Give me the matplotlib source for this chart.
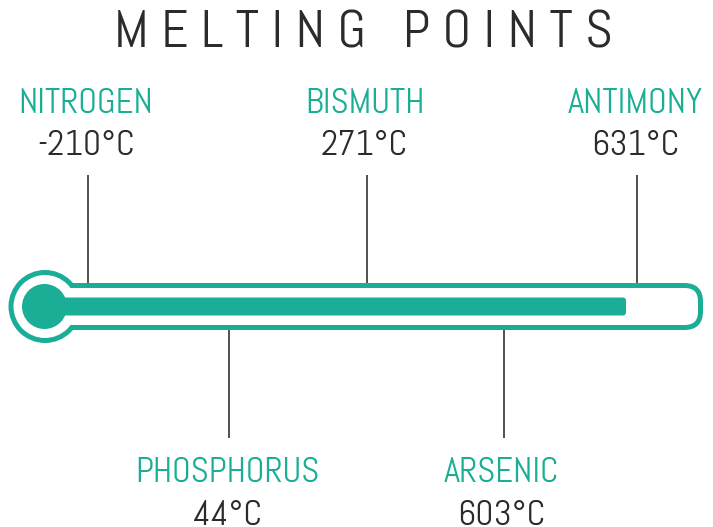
import matplotlib
matplotlib.use('Agg')
import matplotlib.pyplot as plt
from matplotlib.patches import Circle, FancyBboxPatch, Rectangle

### Data
elements = ['NITROGEN', 'PHOSPHORUS', 'BISMUTH', 'ARSENIC', 'ANTIMONY']
melting = [-210, 44, 271, 603, 631]          # degrees C
above = [True, False, True, False, True]     # label above or below the tube

### Style
TEAL = '#1bae97'
DARK = '#2b2b2b'
LINE = '#555555'
PX = 0.72                                    # points per pixel at dpi 100
FONT = ['Abel', 'DejaVu Sans']

fig = plt.figure(figsize=(7.13, 5.27), dpi=100, facecolor='white')
ax = fig.add_axes([0, 0, 1, 1])
ax.set_xlim(0, 713)
ax.set_ylim(527, 0)                          # pixel coordinates, y down
ax.set_aspect('equal')
ax.axis('off')

# title
ax.text(364, 48, 'M E L T I N G   P O I N T S', ha='center', va='baseline',
        fontsize=38.5, color=DARK, family=FONT)

# thermometer geometry
cy = 306.5
x_left, x_right = 88, 637                   # first and last element positions
step = (x_right - x_left) / (len(elements) - 1)

tube = FancyBboxPatch((45, cy - 21), 700.5 - 45, 42,
                      boxstyle='round,pad=0,rounding_size=16',
                      facecolor='white', edgecolor=TEAL, linewidth=5 * PX, zorder=1)
ax.add_patch(tube)
ax.add_patch(Circle((45, cy), 34, facecolor='white', edgecolor=TEAL,
                    linewidth=5 * PX, zorder=2))
ax.add_patch(Rectangle((50, cy - 18.5), 50, 37, facecolor='white',
                       edgecolor='none', zorder=3))

# mercury
ax.add_patch(Circle((44.5, cy), 22.5, facecolor=TEAL, edgecolor='none', zorder=4))
ax.add_patch(FancyBboxPatch((44, cy - 9), 626 - 44, 18,
                            boxstyle='round,pad=0,rounding_size=3',
                            facecolor=TEAL, edgecolor='none', zorder=4))

# leaders and labels
for i, (name, t, up) in enumerate(zip(elements, melting, above)):
    x = x_left + i * step
    if 0 < i < len(elements) - 1:
        x += 4                               # inner markers sit slightly right
    if up:
        ax.plot([x, x], [176, 283], color=LINE, linewidth=2 * PX, zorder=0)
        y_name, y_val = 113, 155
    else:
        ax.plot([x, x], [330, 437], color=LINE, linewidth=2 * PX, zorder=0)
        y_name, y_val = 482, 525
    ax.text(x - 2, y_name, name, ha='center', va='baseline', fontsize=25,
            color=TEAL, family=FONT)
    ax.text(x - 2, y_val, f'{t}\u00b0C', ha='center', va='baseline', fontsize=25.5,
            color=DARK, family=FONT)

fig.savefig('out.png', dpi=100, facecolor='white')
